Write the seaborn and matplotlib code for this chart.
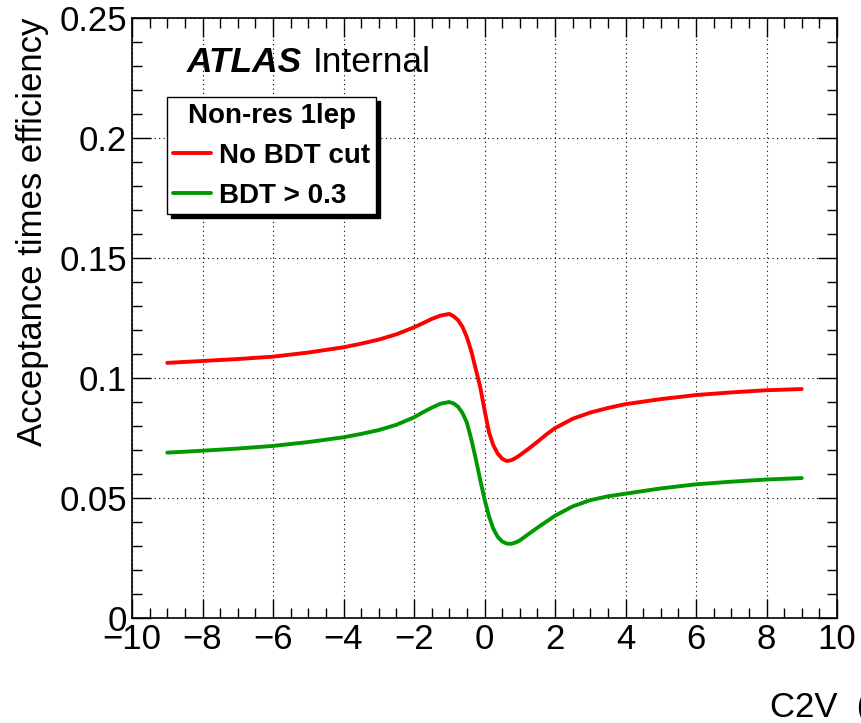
import matplotlib
matplotlib.use("Agg")
import matplotlib.pyplot as plt
import pandas as pd
import seaborn as sns
from matplotlib.ticker import MultipleLocator, FuncFormatter

# ---- data ----
c2v = [-9, -8, -7, -6, -5, -4, -3.5, -3, -2.5, -2, -1.75, -1.5, -1.25, -1,
       -0.875, -0.75, -0.625, -0.5, -0.375, -0.25, -0.125, 0, 0.125, 0.25,
       0.375, 0.5, 0.625, 0.75, 0.875, 1, 1.25, 1.5, 1.75, 2, 2.5, 3, 3.5,
       4, 5, 6, 7, 8, 9]
no_bdt_cut = [0.1063, 0.1071, 0.1079, 0.1089, 0.1106, 0.1128, 0.1143, 0.1160,
              0.1182, 0.1211, 0.1228, 0.1246, 0.1260, 0.1267, 0.1257, 0.1241,
              0.1213, 0.1170, 0.1112, 0.1038, 0.0965, 0.0868, 0.0775, 0.0720,
              0.0685, 0.0664, 0.0654, 0.0657, 0.0666, 0.0678, 0.0705, 0.0734,
              0.0764, 0.0791, 0.0830, 0.0856, 0.0875, 0.0891, 0.0912, 0.0929,
              0.0940, 0.0949, 0.0954]
bdt_gt_03 = [0.0689, 0.0697, 0.0706, 0.0717, 0.0733, 0.0753, 0.0767, 0.0783,
             0.0805, 0.0836, 0.0857, 0.0876, 0.0893, 0.0900, 0.0894, 0.0880,
             0.0854, 0.0814, 0.0745, 0.0665, 0.0578, 0.0495, 0.0425, 0.0372,
             0.0338, 0.0319, 0.0310, 0.0309, 0.0314, 0.0323, 0.0350, 0.0376,
             0.0401, 0.0426, 0.0465, 0.0491, 0.0507, 0.0518, 0.0540, 0.0557,
             0.0568, 0.0577, 0.0583]
series_names = ["No BDT cut", "BDT > 0.3"]
series_colors = ["#ff0000", "#009900"]
legend_title = "Non-res 1lep"

df = pd.DataFrame({
    "C2V": c2v + c2v,
    "eff": no_bdt_cut + bdt_gt_03,
    "sel": [series_names[0]] * len(c2v) + [series_names[1]] * len(c2v),
})

sns.set_theme(style="ticks")
plt.rcParams["font.family"] = ["Liberation Sans", "DejaVu Sans"]
plt.rcParams["axes.unicode_minus"] = True
plt.rcParams["text.color"] = "black"
plt.rcParams["axes.labelcolor"] = "black"
plt.rcParams["xtick.color"] = "black"
plt.rcParams["ytick.color"] = "black"
plt.rcParams["legend.labelcolor"] = "black"

fig = plt.figure(figsize=(8.61, 7.23), dpi=100)
ax = fig.add_axes([132 / 861, 1 - 618 / 723, 705 / 861, 600 / 723])

sns.lineplot(data=df, x="C2V", y="eff", hue="sel", hue_order=series_names,
             palette=series_colors, linewidth=2.8, sort=False, estimator=None,
             ax=ax)

ax.set_xlim(-10, 10)
ax.set_ylim(0, 0.25)
ax.xaxis.set_major_locator(MultipleLocator(2))
ax.xaxis.set_minor_locator(MultipleLocator(0.5))
ax.yaxis.set_major_locator(MultipleLocator(0.05))
ax.yaxis.set_minor_locator(MultipleLocator(0.01))
fmt = FuncFormatter(lambda v, p: ("%g" % round(v, 6)).replace("-", "\u2212"))
ax.xaxis.set_major_formatter(fmt)
ax.yaxis.set_major_formatter(fmt)

ax.tick_params(which="both", direction="in", top=True, right=True,
               colors="black", labelcolor="black", labelsize=25, width=1.0)
ax.tick_params(which="major", length=14, pad=3.5)
ax.tick_params(which="minor", length=7)
for s in ax.spines.values():
    s.set_color("black")
    s.set_linewidth(1.2)

ax.grid(True, which="major", color="black", linestyle=(0, (1, 3)),
        linewidth=0.8)

ax.set_xlabel("")
ax.set_ylabel("Acceptance times efficiency", fontsize=25, loc="top",
              color="black")
ax.yaxis.set_label_coords(-0.118, 1.0)

fig.text(770 / 861, 0.008, "C2V  (", fontsize=25, ha="left", va="baseline",
         color="black")

ax.text(0.078, 0.91, "ATLAS", transform=ax.transAxes, fontsize=25.5,
        fontweight="bold", fontstyle="italic", va="baseline", color="black")
ax.text(0.2567, 0.91, "Internal", transform=ax.transAxes, fontsize=25.5,
        va="baseline", color="black")

handles, labels = ax.get_legend_handles_labels()
leg = ax.legend(handles, labels, title=legend_title, loc="upper left",
                bbox_to_anchor=(0.0496, 0.868),
                prop={"weight": "bold", "size": 20},
                title_fontproperties={"weight": "bold", "size": 20},
                frameon=True, fancybox=False, edgecolor="black",
                framealpha=1, borderpad=0.2, handlelength=1.37,
                handletextpad=0.32, labelspacing=0.5, borderaxespad=0,
                labelcolor="black",
                shadow={"ox": 3, "oy": -3, "shade": 1.0, "alpha": 1})
leg.get_frame().set_linewidth(1.0)
leg.get_title().set_color("black")
for line in leg.get_lines():
    line.set_linewidth(2.8)

fig.savefig("out.png", dpi=100)
